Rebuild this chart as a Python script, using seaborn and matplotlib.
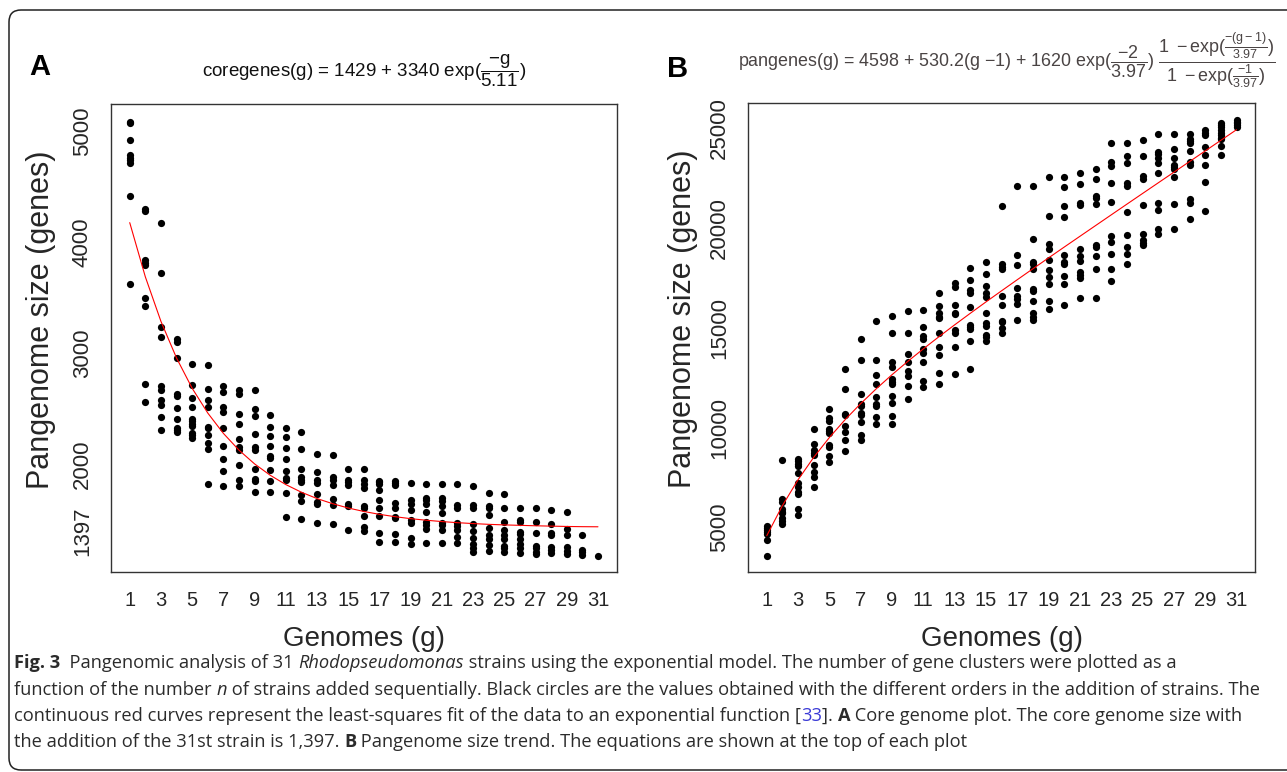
import matplotlib
matplotlib.use("Agg")
import matplotlib.pyplot as plt
from matplotlib import font_manager
from matplotlib.patches import FancyBboxPatch
from matplotlib.transforms import IdentityTransform
import numpy as np
import pandas as pd
import seaborn as sns

# ---- data ----
genomes = list(range(1, 32))
x_tick_labels = ["1", "", "3", "", "5", "", "7", "", "9", "", "11", "", "13", "", "15", "",
                 "17", "", "19", "", "21", "", "23", "", "25", "", "27", "", "29", "", "31"]

# panel A: core genome size per number of genomes
core_sizes = [
    [5085, 5075, 4916, 4784, 4760, 4740, 4715, 4412, 3620],
    [4301, 4280, 3836, 3815, 3791, 3494, 3425, 2720, 2558],
    [4175, 3722, 3233, 3143, 2708, 2669, 2582, 2531, 2429, 2309],
    [3128, 3104, 2954, 2636, 2618, 2510, 2408, 2330, 2309, 2288],
    [2900, 2711, 2597, 2516, 2408, 2387, 2366, 2348, 2285, 2264, 2240],
    [2891, 2681, 2579, 2516, 2339, 2324, 2267, 2192, 2141, 1826],
    [2708, 2651, 2519, 2468, 2330, 2168, 2048, 1943, 1808],
    [2672, 2633, 2453, 2366, 2228, 2159, 2129, 1994, 1862, 1808],
    [2669, 2495, 2438, 2273, 2156, 2129, 1955, 1868, 1853, 1748],
    [2444, 2339, 2258, 2168, 2075, 2054, 1946, 1853, 1748],
    [2330, 2249, 2150, 2051, 1940, 1874, 1856, 1742, 1529],
    [2288, 2141, 1961, 1889, 1859, 1841, 1727, 1667, 1511],
    [2090, 1928, 1859, 1829, 1736, 1664, 1646, 1475],
    [2081, 1886, 1856, 1814, 1688, 1634, 1460],
    [1961, 1856, 1838, 1811, 1646, 1622, 1406],
    [1961, 1856, 1820, 1790, 1622, 1604, 1538, 1439, 1403],
    [1853, 1838, 1820, 1769, 1682, 1607, 1532, 1385, 1298],
    [1853, 1829, 1811, 1655, 1607, 1529, 1517, 1373, 1298],
    [1829, 1679, 1646, 1586, 1499, 1475, 1334, 1286],
    [1826, 1694, 1679, 1640, 1574, 1484, 1451, 1421, 1292],
    [1820, 1694, 1667, 1625, 1565, 1475, 1454, 1409, 1292],
    [1820, 1631, 1607, 1475, 1442, 1409, 1343, 1289],
    [1802, 1634, 1610, 1463, 1397, 1334, 1286, 1247, 1211],
    [1745, 1625, 1607, 1544, 1424, 1364, 1328, 1274, 1217],
    [1730, 1610, 1484, 1409, 1364, 1331, 1268, 1244, 1214],
    [1604, 1499, 1484, 1394, 1370, 1328, 1280, 1247, 1205],
    [1604, 1484, 1379, 1268, 1244, 1214, 1193],
    [1589, 1463, 1379, 1364, 1259, 1229, 1199],
    [1574, 1415, 1361, 1259, 1223, 1193],
    [1361, 1229, 1208, 1181],
    [1178],
]
core_fit = [4175, 3687, 3286, 2956, 2684, 2461, 2278, 2127, 2003, 1901,
            1817, 1748, 1691, 1645, 1606, 1575, 1549, 1528, 1510, 1496,
            1484, 1474, 1466, 1459, 1454, 1450, 1446, 1443, 1440, 1438, 1437]
core_yticks = [5000, 4000, 3000, 2000, 1397]

# panel B: pangenome size per number of genomes
pan_sizes = [
    [5083, 5000, 4883, 4767, 4667, 4383, 3600],
    [8400, 6417, 6300, 5950, 5800, 5717, 5467, 5317, 5167],
    [8433, 8317, 8183, 8083, 7750, 7217, 7050, 6800, 6683, 5917, 5633],
    [9950, 9183, 8883, 8750, 8617, 8133, 7783, 7550, 7017],
    [10933, 10467, 10350, 9950, 9850, 9717, 9133, 9050, 8583, 8267],
    [12950, 11933, 10683, 10617, 10083, 9767, 9367, 8817],
    [14433, 13367, 11700, 11167, 11083, 10717, 10617, 10283, 9617, 9383],
    [15317, 13383, 12633, 12167, 11550, 11200, 11083, 10550, 10167],
    [15583, 14733, 13283, 13050, 12417, 12300, 12183, 11600, 11217, 10600, 10183],
    [15850, 14733, 13683, 13267, 12850, 12583, 12100, 11433],
    [15883, 15050, 14567, 14417, 13950, 13717, 13300, 12333, 12017],
    [16717, 16067, 15717, 15550, 15467, 14717, 14033, 13617, 12750, 12167],
    [17217, 17050, 16133, 15750, 15667, 14883, 14750, 14050, 12700],
    [17967, 17383, 16883, 16717, 16033, 15117, 15050, 14950, 14350, 12933],
    [18267, 17700, 17100, 16717, 16517, 15717, 15217, 15100, 14633, 14533, 14350],
    [21083, 18183, 18050, 17917, 16600, 16117, 15350, 15267, 14967, 14750],
    [22100, 18650, 18150, 16983, 16583, 16417, 16183, 15383],
    [22100, 19433, 18300, 18183, 17933, 16950, 16817, 16333, 15717, 15517, 15383],
    [22533, 20600, 19183, 18950, 18383, 17867, 17550, 17200, 16333, 15933],
    [22533, 22017, 21100, 20517, 18633, 18300, 18183, 17583, 17200, 16150],
    [22733, 22183, 21217, 21117, 18933, 18600, 18350, 17783, 17650, 17500, 16500],
    [22933, 22450, 21600, 21500, 21167, 19133, 19050, 18567, 17917, 16500],
    [24217, 23300, 23100, 22217, 21283, 19600, 19300, 18667, 17950, 17317],
    [24217, 23583, 23233, 22217, 22083, 20767, 19650, 19033, 18683, 18200],
    [24400, 23583, 22567, 22433, 21117, 19683, 19383, 19250, 19117],
    [24667, 23800, 23667, 23467, 23233, 22733, 21217, 20883, 19950, 19667],
    [24667, 23950, 23483, 23133, 23033, 22933, 22533, 21200, 19950],
    [24667, 24450, 24317, 24217, 23833, 23283, 23117, 21450, 21217, 20417],
    [24900, 24750, 24633, 24050, 23633, 23117, 22267, 20833],
    [25250, 25133, 25017, 24883, 24750, 24633, 24500, 24417, 24083, 23633],
    [25383, 25300, 25217, 25133, 25050],
]
pan_fit = [4598, 6107, 7398, 8520, 9509, 10397, 11204, 11950, 12649, 13310,
           13941, 14550, 15141, 15719, 16287, 16845, 17398, 17946, 18490, 19031,
           19568, 20104, 20640, 21175, 21708, 22240, 22772, 23303, 23835, 24366, 24897]
pan_yticks = [5000, 10000, 15000, 20000, 25000]


def to_long(sizes):
    rows = [(g, v) for g, vals in zip(genomes, sizes) for v in vals]
    return pd.DataFrame(rows, columns=["g", "genes"])


core_df = to_long(core_sizes)
pan_df = to_long(pan_sizes)

# ---- style ----
sns.set_theme(style="white")
plt.rcParams["font.family"] = ["Liberation Sans", "DejaVu Sans"]
plt.rcParams["mathtext.fontset"] = "custom"
plt.rcParams["mathtext.rm"] = "Liberation Sans"
plt.rcParams["mathtext.it"] = "Liberation Sans:italic"
plt.rcParams["mathtext.bf"] = "Liberation Sans:bold"

fig = plt.figure(figsize=(12.87, 7.72), dpi=100)
W, H = 1287, 772
ax_a = fig.add_axes([111 / W, 200 / H, 505.7 / W, 468 / H])
ax_b = fig.add_axes([748 / W, 200 / H, 507.3 / W, 468.7 / H])


def style_axis(ax, yticks, ylim):
    ax.set_xlim(-0.2, 32.2)
    ax.set_ylim(*ylim)
    ax.set_xticks(genomes)
    ax.set_xticklabels(x_tick_labels)
    ax.set_yticks(yticks)
    ax.set_yticklabels([str(t) for t in yticks], rotation=90, va="center")
    ax.tick_params(axis="x", length=7, width=0.9, color="#333", labelsize=14.5, pad=7)
    ax.tick_params(axis="y", length=7, width=0.9, color="#333", labelsize=16, pad=6)
    for sp in ax.spines.values():
        sp.set_color("#333")
        sp.set_linewidth(1.0)
    ax.set_xlabel("Genomes (g)", fontsize=20, labelpad=11)
    ax.set_ylabel("Pangenome size (genes)", fontsize=22)


# panel A
sns.scatterplot(data=core_df, x="g", y="genes", color="black", s=27, linewidth=0, ax=ax_a)
sns.lineplot(x=genomes, y=core_fit, color="red", linewidth=0.8, ax=ax_a)
style_axis(ax_a, core_yticks, (1030, 5243))
ax_a.yaxis.set_label_coords(-0.108, 0.54)
ax_a.text(0.5, 1.058, r"coregenes(g) = 1429 + 3340 exp($\dfrac{-\mathrm{g}}{5.11}$)",
          transform=ax_a.transAxes, ha="center", va="baseline", fontsize=13.5, color="#111")

# panel B
sns.scatterplot(data=pan_df, x="g", y="genes", color="black", s=27, linewidth=0, ax=ax_b)
sns.lineplot(x=genomes, y=pan_fit, color="red", linewidth=0.8, ax=ax_b)
style_axis(ax_b, pan_yticks, (2783, 26217))
ax_b.yaxis.set_label_coords(-0.098, 0.54)
ax_b.text(0.51, 1.077,
          r"pangenes(g) = 4598 + 530.2(g $-$1) + 1620 exp($\dfrac{-2}{3.97}$) "
          r"$\dfrac{1\ -\mathrm{exp}(\frac{-(\mathrm{g}-1)}{3.97})}{1\ -\mathrm{exp}(\frac{-1}{3.97})}$",
          transform=ax_b.transAxes, ha="center", va="baseline", fontsize=12.9, color="#4a4444")

# panel letters
fig.text(29 / W, 1 - 75 / H, "A", fontsize=21, fontweight="bold", color="black")
fig.text(667 / W, 1 - 77 / H, "B", fontsize=21, fontweight="bold", color="black")

# rounded frame round the figure
frame = FancyBboxPatch((9, 2), 1320, 760, boxstyle="round,pad=0,rounding_size=12",
                       transform=IdentityTransform(), fill=False, edgecolor="#222",
                       linewidth=1.1, clip_on=False)
fig.patches.append(frame)

# ---- caption ----
names = [f.name for f in font_manager.fontManager.ttflist]
cap_family = "Liberation Sans Narrow" if "Liberation Sans Narrow" in names else "Open Sans"
cap_color = "#2b2b2b"
normal = dict(family=cap_family)
bold = dict(family=cap_family, weight="bold")
ital = dict(family=cap_family, style="italic")
blue = dict(family=cap_family, color="#3a3ad6")

caption = [
    [("Fig. 3", bold), ("  Pangenomic analysis of 31 ", normal), ("Rhodopseudomonas", ital),
     (" strains using the exponential model. The number of gene clusters were plotted as a", normal)],
    [("function of the number ", normal), ("n", ital),
     (" of strains added sequentially. Black circles are the values obtained with the different "
      "orders in the addition of strains. The", normal)],
    [("continuous red curves represent the least-squares fit of the data to an exponential function [", normal),
     ("33", blue), ("]. ", normal), ("A", bold), (" Core genome plot. The core genome size with", normal)],
    [("the addition of the 31st strain is 1,397. ", normal), ("B", bold),
     (" Pangenome size trend. The equations are shown at the top of each plot", normal)],
]
baselines = [668, 695, 721, 747]

renderer = fig.canvas.get_renderer()


def advance(text, props, size):
    fp = font_manager.FontProperties(family=props["family"], weight=props.get("weight", "normal"),
                                     style=props.get("style", "normal"), size=size)
    w1, _, _ = renderer.get_text_width_height_descent(text + "|", fp, ismath=False)
    w2, _, _ = renderer.get_text_width_height_descent("|", fp, ismath=False)
    return w1 - w2


ref = sum(advance(t, p, 10) for t, p in caption[1])
cap_size = 10 * 1246 / ref

for line, base in zip(caption, baselines):
    x = 14
    for text, props in line:
        kw = dict(props)
        kw.setdefault("color", cap_color)
        fig.text(x / W, 1 - base / H, text, fontsize=cap_size, va="baseline", ha="left", **kw)
        x += advance(text, props, cap_size)

fig.savefig("out.png", dpi=100)
